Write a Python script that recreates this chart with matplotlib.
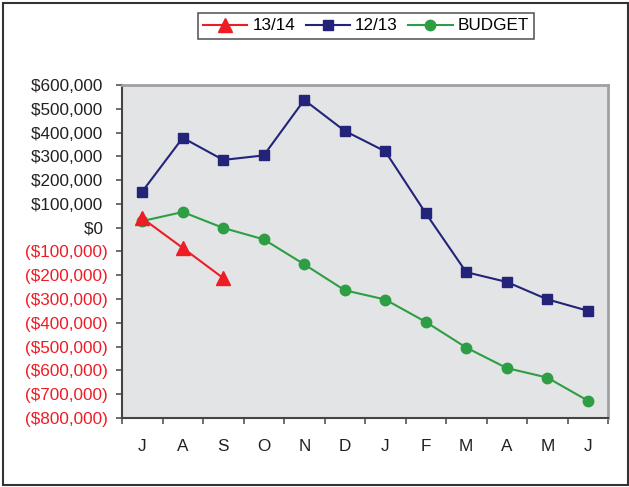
import matplotlib
matplotlib.use("Agg")
import matplotlib.pyplot as plt
from matplotlib.patches import Rectangle

plt.rcParams['font.family'] = ['Liberation Sans', 'DejaVu Sans']

months = ["J", "A", "S", "O", "N", "D", "J", "F", "M", "A", "M", "J"]
s1314 = [40000, -85000, -212000]
s1213 = [152000, 378000, 285000, 304000, 537000, 407000, 321000, 61000,
         -187000, -228000, -301000, -349000]
budget = [28000, 66000, -1000, -49000, -154000, -263000, -302000, -396000,
          -504000, -590000, -630000, -727000]
yticks = list(range(-800000, 600001, 100000))

def fmt(v):
    if v < 0:
        return "(${:,})".format(-v)
    return "${:,} ".format(v)

FS = 12.3

fig = plt.figure(figsize=(6.29, 4.87), dpi=100)
ax = fig.add_axes([122/629, 1 - 418/487, (608-122)/629, (418-85)/487])
ax.set_facecolor("#e3e4e6")

x = list(range(len(months)))
ax.plot(x[:len(s1314)], s1314, color="#ee1c25", marker="^", markersize=10,
        lw=1.5, label="13/14", zorder=4)
ax.plot(x, s1213, color="#23237a", marker="s", markersize=7.5,
        lw=1.5, label="12/13", zorder=3)
ax.plot(x, budget, color="#2e9e44", marker="o", markersize=7.5,
        lw=1.5, label="BUDGET", zorder=3)

ax.set_xlim(-0.5, len(months) - 0.5)
ax.set_ylim(-800000, 600000)
ax.set_yticks(yticks)
ax.set_yticklabels([fmt(v) for v in yticks], fontsize=FS)
for lab, v in zip(ax.get_yticklabels(), yticks):
    lab.set_color("#ee1c25" if v < 0 else "#231f20")

ax.set_xticks(x)
ax.set_xticklabels(months, fontsize=FS, color="#231f20")
ax.set_xticks([i - 0.5 for i in range(len(months) + 1)], minor=True)
ax.tick_params(axis="x", which="major", length=0, pad=15)
ax.tick_params(axis="x", which="minor", length=4.3, width=1.2, color="#555555", direction="out")
ax.tick_params(axis="y", length=4, width=1.2, color="#555555", direction="out", pad=6.5)

for side in ["left", "bottom"]:
    ax.spines[side].set_color("#444444")
    ax.spines[side].set_linewidth(1.5)
for side in ["right", "top"]:
    ax.spines[side].set_color("#a0a0a2")
    ax.spines[side].set_linewidth(2)

leg = fig.legend(loc="center", bbox_to_anchor=(366/629, 1 - 26/487), ncol=3,
                 fontsize=FS, frameon=True, fancybox=False, edgecolor="#333333",
                 handlelength=2.6, columnspacing=0.6, handletextpad=0.3,
                 borderpad=0.3)
leg.get_frame().set_linewidth(1.2)

fig.patches.append(Rectangle((2.5/629, 2/487), 0.995, 1 - 5/487,
                             transform=fig.transFigure, fill=False,
                             edgecolor="#333333", lw=1.5))

fig.savefig("out.png", dpi=100)
